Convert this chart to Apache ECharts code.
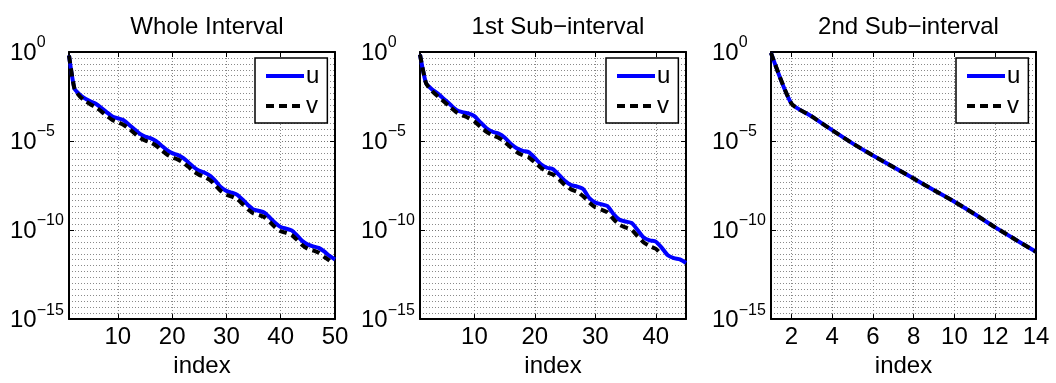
<!DOCTYPE html>
<html><head><meta charset="utf-8">
<script src="https://cdn.jsdelivr.net/npm/echarts@6/dist/echarts.min.js"></script>
<style>html,body{margin:0;padding:0;background:#fff}#c{width:1056px;height:383px}</style>
</head><body><div id="c"></div>
<script>
// ---- data (y values are log10 of the plotted quantity, axis is a log-decade scale) ----
const titles = ['Whole Interval', '1st Sub\u2212interval', '2nd Sub\u2212interval'];
const xName = 'index';
const idxWhole = [1,2,3,4,5,6,7,8,9,10,11,12,13,14,15,16,17,18,19,20,21,22,23,24,25,26,27,28,29,30,31,32,33,34,35,36,37,38,39,40,41,42,43,44,45,46,47,48,49,50];
const idxSub1 = [1,2,3,4,5,6,7,8,9,10,11,12,13,14,15,16,17,18,19,20,21,22,23,24,25,26,27,28,29,30,31,32,33,34,35,36,37,38,39,40,41,42,43,44,45];
const idxSub2 = [1,2,3,4,5,6,7,8,9,10,11,12,13,14];
const xTicksWhole = [10,20,30,40,50];
const xTicksSub1 = [10,20,30,40];
const xTicksSub2 = [2,4,6,8,10,12,14];
const yTickExponents = [-15,-10,-5,0];

const uWhole = [-0.2,-2.05,-2.4,-2.62,-2.78,-2.92,-3.15,-3.4,-3.62,-3.72,
  -3.82,-4.07,-4.33,-4.58,-4.75,-4.84,-5.0,-5.25,-5.5,-5.68,
  -5.78,-5.95,-6.2,-6.47,-6.67,-6.78,-6.95,-7.25,-7.6,-7.8,
  -7.9,-8.02,-8.3,-8.6,-8.85,-8.92,-9.02,-9.3,-9.6,-9.83,
  -9.92,-10.02,-10.3,-10.62,-10.82,-10.92,-11.0,-11.2,-11.45,-11.65];
const vWhole = [-0.2,-2.05,-2.5,-2.75,-2.95,-3.12,-3.35,-3.6,-3.82,-3.95,
  -4.08,-4.3,-4.55,-4.8,-4.97,-5.08,-5.25,-5.5,-5.75,-5.92,
  -6.03,-6.2,-6.45,-6.72,-6.9,-7.02,-7.2,-7.5,-7.82,-8.02,
  -8.12,-8.27,-8.55,-8.85,-9.07,-9.16,-9.28,-9.55,-9.85,-10.07,
  -10.16,-10.28,-10.55,-10.85,-11.05,-11.15,-11.27,-11.5,-11.72];
const uSub1 = [-0.15,-1.75,-2.1,-2.35,-2.65,-2.95,-3.25,-3.38,-3.45,-3.6,
  -3.95,-4.28,-4.48,-4.58,-4.8,-5.15,-5.4,-5.55,-5.63,-5.95,
  -6.3,-6.5,-6.58,-6.9,-7.25,-7.48,-7.56,-7.7,-8.2,-8.45,
  -8.55,-8.65,-9.1,-9.42,-9.52,-9.6,-10.0,-10.42,-10.58,-10.65,
  -11.0,-11.42,-11.58,-11.65,-11.85];
const vSub1 = [-0.15,-1.75,-2.2,-2.5,-2.8,-3.1,-3.38,-3.55,-3.7,-3.9,
  -4.2,-4.48,-4.68,-4.82,-5.05,-5.35,-5.62,-5.8,-5.92,-6.2,
  -6.5,-6.75,-6.88,-7.15,-7.48,-7.72,-7.85,-8.1,-8.45,-8.72,
  -8.85,-9.0,-9.38,-9.7,-9.85,-9.98,-10.35,-10.7,-10.9,-11.05,-11.4];
const uSub2 = [-0.05,-2.89,-3.62,-4.39,-5.13,-5.81,-6.46,-7.11,-7.76,-8.41,-9.11,-9.85,-10.54,-11.22];
const vSub2 = [-0.05,-2.89,-3.62,-4.39,-5.13,-5.81,-6.46,-7.11,-7.76,-8.41,-9.11,-9.85,-10.54,-11.22];

// ---- layout ----
const FONT = '"Liberation Sans", Arial, Helvetica, sans-serif';
const FS = 24;
const boxes = [
  {left: 69, top: 52, width: 266, height: 270},
  {left: 420, top: 52, width: 266, height: 270},
  {left: 771, top: 52, width: 265, height: 270}
];
const panels = [
  {idx: idxWhole, ticks: xTicksWhole, u: uWhole, v: vWhole},
  {idx: idxSub1, ticks: xTicksSub1, u: uSub1, v: vSub1},
  {idx: idxSub2, ticks: xTicksSub2, u: uSub2, v: vSub2}
];

const grid = [], xAxis = [], yAxis = [], series = [], title = [], legend = [];
const dotted = (c) => ({color: c, width: 1, type: [1, 2]});
const expLabel = (val) => {
  const e = Math.round(val);
  return '{b|10}{s|' + (e === 0 ? '0' : '\u2212' + (-e)) + '}';
};

panels.forEach((p, i) => {
  const b = boxes[i];
  grid.push({left: b.left, top: b.top, width: b.width, height: b.height, containLabel: false});
  const showTick = (k, val) => p.ticks.indexOf(Number(val)) >= 0;
  const baseX = {
    type: 'category', gridIndex: i, data: p.idx, boundaryGap: false,
    axisLine: {show: true, onZero: false, lineStyle: {color: '#000', width: 2}}
  };
  xAxis.push(Object.assign({}, baseX, {
    position: 'bottom',
    axisTick: {show: true, inside: true, length: 5, interval: showTick, lineStyle: {color: '#000', width: 1}},
    axisLabel: {show: true, interval: showTick, fontSize: FS, fontFamily: FONT, color: '#000', margin: 6},
    splitLine: {show: true, interval: showTick, lineStyle: dotted('#888')},
    name: xName, nameLocation: 'middle', nameGap: 29,
    nameTextStyle: {fontSize: FS, fontFamily: FONT, color: '#000'}
  }));
  xAxis.push(Object.assign({}, baseX, {
    position: 'top',
    axisTick: {show: true, inside: true, length: 5, interval: showTick, lineStyle: {color: '#000', width: 1}},
    axisLabel: {show: false}, splitLine: {show: false}
  }));
  const baseY = {
    type: 'value', gridIndex: i, min: -15, max: 0, interval: 5,
    axisLine: {show: true, onZero: false, lineStyle: {color: '#000', width: 2}},
    axisTick: {show: true, inside: true, length: 5, lineStyle: {color: '#000', width: 1}}
  };
  yAxis.push(Object.assign({}, baseY, {
    position: 'left',
    axisLabel: {
      show: true, align: 'left', margin: 59, formatter: expLabel, padding: [0, 0, 4, 0],
      customValues: yTickExponents,
      rich: {
        b: {fontSize: FS, fontFamily: FONT, color: '#000', padding: [6, 0, 0, 0], verticalAlign: 'bottom'},
        s: {fontSize: 16, fontFamily: FONT, color: '#000', verticalAlign: 'top'}
      }
    },
    splitLine: {show: true, lineStyle: dotted('#777')},
    minorTick: {show: false, splitNumber: 15},
    minorSplitLine: {show: true, lineStyle: dotted('#8a8a8a')}
  }));
  yAxis.push(Object.assign({}, baseY, {
    position: 'right', axisLabel: {show: false}, splitLine: {show: false}
  }));
  series.push({
    type: 'line', name: 'u', xAxisIndex: 2 * i, yAxisIndex: 2 * i, data: p.u,
    symbol: 'none', showSymbol: false, smooth: 0.2, z: 3,
    lineStyle: {color: '#0000ff', width: 4}, itemStyle: {color: '#0000ff'}
  });
  series.push({
    type: 'line', name: 'v', xAxisIndex: 2 * i, yAxisIndex: 2 * i, data: p.v,
    symbol: 'none', showSymbol: false, smooth: 0.2, z: 4,
    lineStyle: {color: '#000', width: 4, type: [8, 5]}, itemStyle: {color: '#000'}
  });
  title.push({
    text: titles[i], left: b.left + b.width / 2, top: 10, textAlign: 'center',
    textStyle: {fontSize: FS, fontWeight: 'normal', fontFamily: FONT, color: '#000'}
  });
  legend.push({
    data: ['u', 'v'], orient: 'vertical', left: b.left + b.width - 80, top: 58,
    itemWidth: 38, itemHeight: 14, itemGap: 6, padding: [6, 8, 5, 9],
    backgroundColor: '#fff', borderColor: '#000', borderWidth: 1.5,
    itemStyle: {opacity: 0, borderWidth: 0},
    lineStyle: {width: 4},
    textStyle: {fontSize: FS, fontFamily: FONT, color: '#000', padding: [0, 0, 0, -3]},
    selectedMode: false
  });
});

const chart = echarts.init(document.getElementById('c'), null, {renderer: 'canvas'});
chart.setOption({animation: false, backgroundColor: '#fff', title, legend, grid, xAxis, yAxis, series});
</script></body></html>
